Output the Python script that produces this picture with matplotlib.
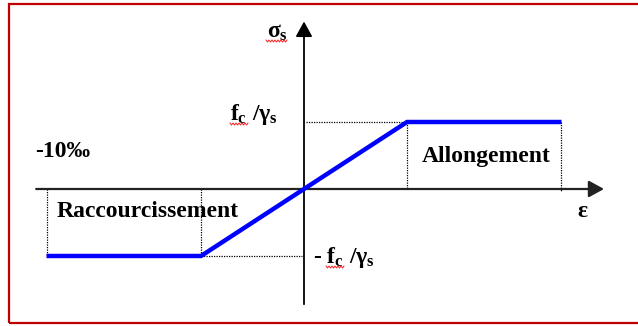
import matplotlib
matplotlib.use("Agg")
import numpy as np
import matplotlib.pyplot as plt
from matplotlib.patches import Rectangle

# ---- data (strain in arbitrary units, stress normalised by fe/gamma_s) ----
eps_curve = [-10, -4, 0, 4, 10]
sig_curve = [-1, -1, 0, 1, 1]
eps_yield = 4
eps_max = 10
sig_yield = 1

plt.rcParams['mathtext.fontset'] = 'custom'
plt.rcParams['mathtext.rm'] = 'Liberation Serif:bold'
plt.rcParams['mathtext.it'] = 'Liberation Serif:bold'
plt.rcParams['mathtext.bf'] = 'Liberation Serif:bold'
plt.rcParams['font.family'] = ['Liberation Serif', 'DejaVu Serif']

W, H = 638, 326
fig = plt.figure(figsize=(W / 100, H / 100), dpi=100)
ax = fig.add_axes([0, 0, 1, 1])
ax.set_xlim(-11.806, 12.971)
ax.set_ylim(-2.045, 2.821)
ax.axis('off')

# red frame
fig.patches.append(Rectangle((8.5 / W, 1 - 322.5 / H), 1.2, (322.5 - 4) / H,
                             transform=fig.transFigure, fill=False,
                             edgecolor='#C00000', lw=1.6))

# axes with arrows
arrow = dict(arrowstyle='-|>,head_length=0.4,head_width=0.22', mutation_scale=23,
             color='black', lw=1.3, shrinkA=0, shrinkB=0)
ax.annotate('', xy=(11.65, 0), xytext=(-10.4, 0),
            arrowprops=dict(arrow, color='#222222', lw=1.6))
ax.annotate('', xy=(0, 2.50), xytext=(0, -1.72), arrowprops=arrow)

# dotted guide lines
dot = dict(color='black', lw=0.9, linestyle=(0, (1, 1)))
ax.plot([0.08, eps_yield], [sig_yield, sig_yield], **dot)
ax.plot([eps_yield, eps_yield], [sig_yield, 0], **dot)
ax.plot([eps_max, eps_max], [sig_yield, -0.05], **dot)
ax.plot([-eps_max, -eps_max], [0, -sig_yield], **dot)
ax.plot([-eps_yield, -eps_yield], [0, -sig_yield], **dot)
ax.plot([-eps_yield, -0.08], [-sig_yield, -sig_yield], **dot)

# constitutive law
ax.plot(eps_curve, sig_curve, color='#0000FF', lw=3.2, solid_capstyle='butt',
        solid_joinstyle='miter', zorder=5)

fs = 17
ax.text(-1.05, 2.33, r'$σ_s$', fontsize=fs, ha='center', va='center')
ax.text(-1.01, 1.03, r'$f_c\ /γ_s$', fontsize=fs, ha='right', va='baseline')
ax.text(0.35, -1.10, r'- $f_c\ /γ_s$', fontsize=fs, fontweight='bold',
        ha='left', va='baseline')
ax.text(-10.45, 0.478, '-10‰', fontsize=fs, fontweight='bold', ha='left', va='baseline')
ax.text(4.58, 0.40, 'Allongement', fontsize=fs, fontweight='bold', ha='left', va='baseline')
ax.text(-9.59, -0.418, 'Raccourcissement', fontsize=fs, fontweight='bold',
        ha='left', va='baseline')
ax.text(10.8, -0.343, 'ε', fontsize=fs, fontweight='bold', ha='center', va='center')


# spell-check style red wavy underlines (pixel based decoration)
def wavy(x0, x1, y):
    xs = np.arange(x0, x1 + 0.1, 1.5)
    ys = y + np.where(np.arange(len(xs)) % 2 == 0, -1.0, 1.0)
    ax.plot(xs / W, 1 - ys / H, transform=fig.transFigure, color='#FF2020',
            lw=0.7, zorder=6)


wavy(266, 288, 41)
wavy(230, 249, 124)
wavy(326, 345, 267)

fig.savefig('out.png', dpi=100)
